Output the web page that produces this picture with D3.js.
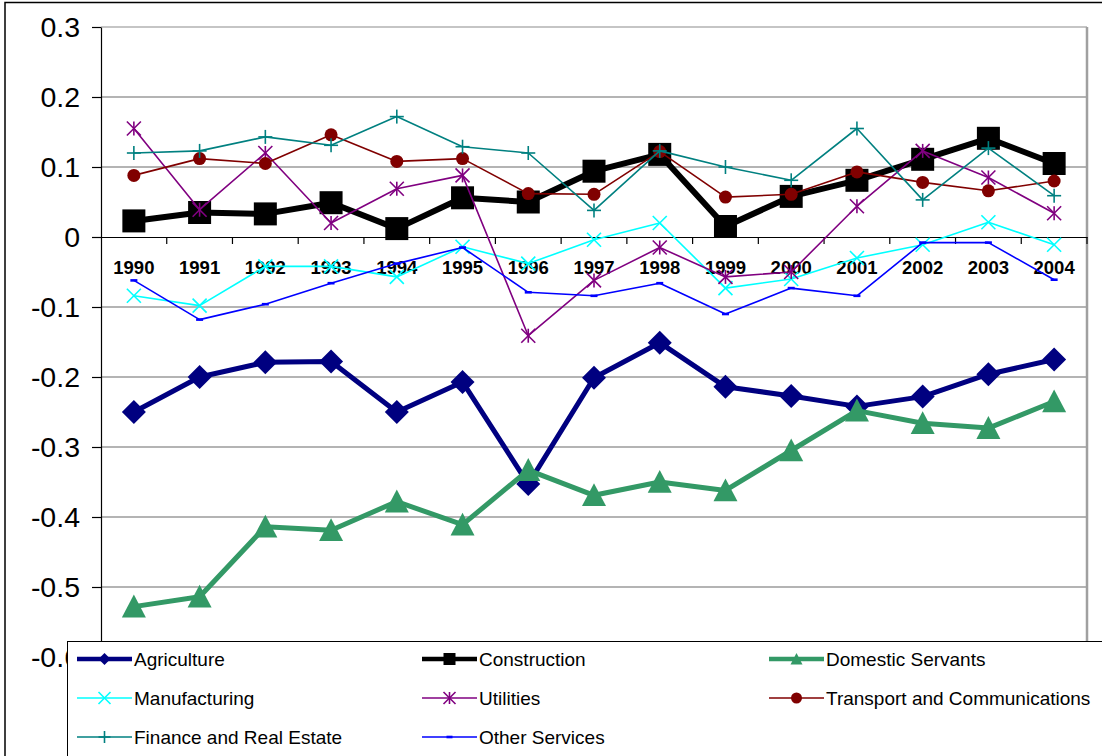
<!DOCTYPE html>
<html>
<head>
<meta charset="utf-8">
<script src="https://cdn.jsdelivr.net/npm/d3@7"></script>
<style>
  body { margin: 0; background: #fff; }
  svg { display: block; font-family: "Liberation Sans", Arial, sans-serif; }
</style>
</head>
<body>
<svg id="chart" width="1102" height="756"></svg>
<script>
var years = ['1990', '1991', '1992', '1993', '1994', '1995', '1996', '1997',
             '1998', '1999', '2000', '2001', '2002', '2003', '2004'];
var yTicks = [0.3, 0.2, 0.1, 0, -0.1, -0.2, -0.3, -0.4, -0.5, -0.6];

var agriculture = [-0.250, -0.200, -0.179, -0.178, -0.250, -0.207, -0.353, -0.201,
                   -0.151, -0.214, -0.227, -0.242, -0.228, -0.196, -0.175];
var construction = [0.023, 0.035, 0.033, 0.049, 0.012, 0.056, 0.050, 0.094,
                    0.118, 0.015, 0.058, 0.081, 0.111, 0.141, 0.105];
var domestic = [-0.528, -0.514, -0.414, -0.419, -0.378, -0.411, -0.333, -0.369,
                -0.350, -0.362, -0.305, -0.248, -0.266, -0.273, -0.235];
var manufacturing = [-0.084, -0.098, -0.042, -0.042, -0.057, -0.014, -0.038, -0.004,
                     0.020, -0.073, -0.060, -0.030, -0.011, 0.021, -0.011];
var utilities = [0.155, 0.039, 0.120, 0.020, 0.069, 0.088, -0.141, -0.062,
                 -0.015, -0.057, -0.050, 0.044, 0.123, 0.085, 0.034];
var transport = [0.088, 0.112, 0.105, 0.146, 0.108, 0.112, 0.062, 0.061,
                 0.122, 0.057, 0.061, 0.093, 0.078, 0.066, 0.080];
var finance = [0.120, 0.123, 0.143, 0.131, 0.172, 0.129, 0.120, 0.038,
               0.123, 0.100, 0.081, 0.155, 0.053, 0.127, 0.059];
var otherServices = [-0.062, -0.118, -0.096, -0.066, -0.038, -0.015, -0.079, -0.084,
                     -0.066, -0.110, -0.073, -0.084, -0.008, -0.008, -0.061];

// series table: legend order == draw order
var series = [
    {name: 'Agriculture', values: agriculture, color: '#000080', width: 5, marker: 'diamond', size: 12, lsize: 6},
    {name: 'Construction', values: construction, color: '#000000', width: 6, marker: 'square', size: 11.5, lsize: 6},
    {name: 'Domestic Servants', values: domestic, color: '#339966', width: 5, marker: 'triangle', size: 12, lsize: 6},
    {name: 'Manufacturing', values: manufacturing, color: '#00FFFF', width: 1.6, marker: 'x', size: 7, lsize: 6},
    {name: 'Utilities', values: utilities, color: '#800080', width: 1.6, marker: 'asterisk', size: 7, lsize: 6},
    {name: 'Transport and Communications', values: transport, color: '#800000', width: 1.6, marker: 'circle', size: 6.5, lsize: 5.5},
    {name: 'Finance and Real Estate', values: finance, color: '#008080', width: 1.6, marker: 'plus', size: 7, lsize: 6},
    {name: 'Other Services', values: otherServices, color: '#0000FF', width: 1.6, marker: 'dash', size: 3.5, lsize: 3}
];

var FONT = '"Liberation Sans", Arial, sans-serif';
var svg = d3.select('#chart');
var plot = {left: 101, right: 1087, top: 27, bottom: 657};

var x = d3.scaleBand()
    .domain(years)
    .range([plot.left, plot.right])
    .padding(0);
var y = d3.scaleLinear()
    .domain([-0.6, 0.3])
    .range([plot.bottom, plot.top]);
var cx = function (d) { return x(d) + x.bandwidth() / 2; };

// outer frame
svg.append('rect')
    .attr('x', 5).attr('y', 2.5)
    .attr('width', 1120).attr('height', 780)
    .attr('fill', '#fff')
    .attr('stroke', '#000').attr('stroke-width', 1.5);

// gridlines
svg.append('g')
    .selectAll('line')
    .data(yTicks.filter(function (t) { return t !== 0; }))
  .enter().append('line')
    .attr('x1', plot.left).attr('x2', plot.right)
    .attr('y1', function (d) { return y(d); })
    .attr('y2', function (d) { return y(d); })
    .attr('stroke', function (d) { return d === 0.3 ? '#8c8c8c' : '#6a6a6a'; })
    .attr('stroke-width', 1.2);

// right border
svg.append('line')
    .attr('x1', plot.right).attr('x2', plot.right)
    .attr('y1', plot.top).attr('y2', plot.bottom)
    .attr('stroke', '#a0a0a0').attr('stroke-width', 2.5);

// y axis
var yAxis = d3.axisLeft(y)
    .tickValues(yTicks)
    .tickFormat(function (d) { return d === 0 ? '0' : d3.format('.1f')(d).replace('\u2212', '-'); })
    .tickSizeInner(9)
    .tickSizeOuter(0)
    .tickPadding(12);
var gy = svg.append('g')
    .attr('transform', 'translate(' + plot.left + ',0)')
    .call(yAxis)
    .attr('font-family', FONT);
gy.select('.domain').attr('stroke', '#000').attr('stroke-width', 1.2);
gy.selectAll('.tick line').attr('stroke', '#000').attr('stroke-width', 1.2);
gy.selectAll('.tick text')
    .attr('font-size', 28.5)
    .attr('fill', '#000');

// category axis at zero
var xAxis = d3.axisBottom(x)
    .tickSize(0)
    .tickFormat('');
var gx = svg.append('g')
    .attr('transform', 'translate(0,' + y(0) + ')')
    .call(xAxis)
    .attr('font-family', FONT);
gx.select('.domain').attr('stroke', '#000').attr('stroke-width', 1.2);
gx.selectAll('.tick').remove();

var bounds = years.map(function (d) { return x(d); }).concat([plot.right]);
gx.selectAll('.bound')
    .data(bounds.slice(1))
  .enter().append('line')
    .attr('class', 'bound')
    .attr('x1', function (d) { return d; })
    .attr('x2', function (d) { return d; })
    .attr('y1', 0).attr('y2', 7)
    .attr('stroke', '#000').attr('stroke-width', 1.2);

gx.selectAll('.year')
    .data(years)
  .enter().append('text')
    .attr('class', 'year')
    .attr('x', cx)
    .attr('y', 36.5)
    .attr('text-anchor', 'middle')
    .attr('font-size', 18.5)
    .attr('font-weight', 'bold')
    .attr('fill', '#000')
    .text(function (d) { return d; });

// markers
function drawMarker(sel, type, r, color) {
    if (type === 'diamond') {
        sel.append('path')
            .attr('d', 'M0,' + (-r) + 'L' + r + ',0L0,' + r + 'L' + (-r) + ',0Z')
            .attr('fill', color);
    } else if (type === 'square') {
        sel.append('rect')
            .attr('x', -r).attr('y', -r)
            .attr('width', 2 * r).attr('height', 2 * r)
            .attr('fill', color);
    } else if (type === 'triangle') {
        sel.append('path')
            .attr('d', 'M0,' + (-r) + 'L' + r + ',' + r * 0.9 + 'L' + (-r) + ',' + r * 0.9 + 'Z')
            .attr('fill', color);
    } else if (type === 'circle') {
        sel.append('circle').attr('r', r).attr('fill', color);
    } else if (type === 'x' || type === 'asterisk' || type === 'plus') {
        var segs = [];
        if (type !== 'plus') segs.push([-r, -r, r, r], [-r, r, r, -r]);
        if (type === 'asterisk') segs.push([0, -r, 0, r]);
        if (type === 'plus') segs.push([-r, 0, r, 0], [0, -r, 0, r]);
        sel.selectAll('line.m')
            .data(segs)
          .enter().append('line')
            .attr('class', 'm')
            .attr('x1', function (s) { return s[0]; })
            .attr('y1', function (s) { return s[1]; })
            .attr('x2', function (s) { return s[2]; })
            .attr('y2', function (s) { return s[3]; })
            .attr('stroke', color)
            .attr('stroke-width', 1.6);
    } else if (type === 'dash') {
        sel.append('rect')
            .attr('x', -r).attr('y', -1.3)
            .attr('width', 2 * r).attr('height', 2.6)
            .attr('fill', color);
    }
}

var line = d3.line()
    .x(function (d) { return cx(d.year); })
    .y(function (d) { return y(d.value); });

series.forEach(function (s) {
    var pts = years.map(function (yr, i) { return {year: yr, value: s.values[i]}; });
    var g = svg.append('g').attr('class', 'series');
    g.append('path')
        .datum(pts)
        .attr('d', line)
        .attr('fill', 'none')
        .attr('stroke', s.color)
        .attr('stroke-width', s.width)
        .attr('stroke-linejoin', 'round');
    g.selectAll('.pt')
        .data(pts)
      .enter().append('g')
        .attr('class', 'pt')
        .attr('transform', function (d) { return 'translate(' + cx(d.year) + ',' + y(d.value) + ')'; })
        .each(function () { drawMarker(d3.select(this), s.marker, s.size, s.color); });
});

// legend
var legend = svg.append('g').attr('class', 'legend').attr('font-family', FONT);
legend.append('rect')
    .attr('x', 67.5).attr('y', 641.5)
    .attr('width', 1100).attr('height', 200)
    .attr('fill', '#fff')
    .attr('stroke', '#000').attr('stroke-width', 1);

var colX = [77, 422, 769];
var rowY = [659, 698, 737];
var entries = legend.selectAll('.entry')
    .data(series)
  .enter().append('g')
    .attr('class', 'entry')
    .attr('transform', function (d, i) {
        return 'translate(' + colX[i % 3] + ',' + rowY[Math.floor(i / 3)] + ')';
    });
entries.append('line')
    .attr('x1', 0).attr('x2', 55)
    .attr('y1', 0).attr('y2', 0)
    .attr('stroke', function (d) { return d.color; })
    .attr('stroke-width', function (d) { return Math.min(d.width, 4.5); });
entries.append('g')
    .attr('transform', 'translate(27.5,0)')
    .each(function (d) { drawMarker(d3.select(this), d.marker, d.lsize, d.color); });
entries.append('text')
    .attr('x', 57)
    .attr('y', 7)
    .attr('font-size', 19)
    .attr('fill', '#000')
    .text(function (d) { return d.name; });
</script>
</body>
</html>
